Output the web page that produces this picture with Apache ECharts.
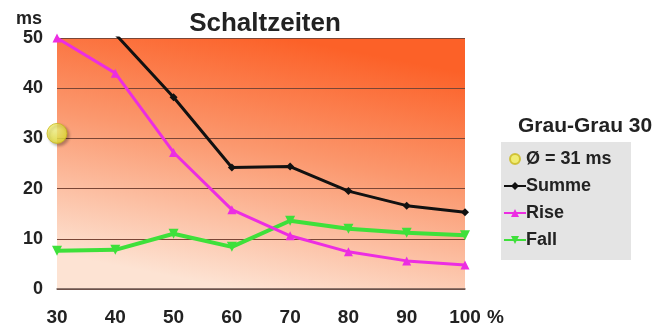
<!DOCTYPE html>
<html><head><meta charset="utf-8">
<script src="https://cdn.jsdelivr.net/npm/echarts@6/dist/echarts.min.js"></script>
<style>html,body{margin:0;padding:0;background:#fff}#c{width:659px;height:328px}</style>
</head><body><div id="c"></div>
<script>
const categories = ['30','40','50','60','70','80','90','100'];
const summe = [57.6, 50.8, 38.2, 24.2, 24.4, 19.5, 16.6, 15.3];
const rise  = [50, 43, 27.2, 15.8, 10.6, 7.4, 5.6, 4.8];
const fall  = [7.6, 7.8, 11.0, 8.4, 13.6, 12.0, 11.2, 10.7];
const avg   = [31, null, null, null, null, null, null, null];
const yTicks = [0, 10, 20, 30, 40, 50];

const F = 'Liberation Sans, Arial, sans-serif';
const chart = echarts.init(document.getElementById('c'));
chart.setOption({
  animation: false,
  title: [
    {text: 'Schaltzeiten', left: 260, textAlign: 'center', top: 6,
     textStyle: {fontFamily: F, fontSize: 26, fontWeight: 'bold', color: '#222'}},
    {text: 'Grau-Grau 30', left: 513, top: 111,
     textStyle: {fontFamily: F, fontSize: 21, fontWeight: 'bold', color: '#222'}}
  ],
  graphic: [{type: 'rect', shape: {x: 501, y: 142, width: 130, height: 118}, style: {fill: '#e4e4e4'}, z: 0}],
  legend: {
    orient: 'vertical', left: 503, top: 150, padding: 0, z: 10,
    itemGap: 9, itemWidth: 22, itemHeight: 10,
    textStyle: {fontFamily: F, fontSize: 18, lineHeight: 18, fontWeight: 'bold', color: '#222', padding: [0,0,0,-5]},
    data: [
      {name: 'Ø = 31 ms', icon: 'circle', itemStyle: {color: '#f2ee55'}},
      {name: 'Summe'}, {name: 'Rise'}, {name: 'Fall'}
    ]
  },
  grid: {left: 57, right: 194, top: 38, bottom: 39, show: true, borderWidth: 0,
    backgroundColor: {type: 'linear', x: 0.56, y: 0, x2: 0.44, y2: 1, colorStops: [
      {offset: 0, color: '#fc6128'}, {offset: 0.45, color: '#fb986e'}, {offset: 1, color: '#fde3d3'}]}},
  xAxis: {
    type: 'category', data: categories, boundaryGap: false,
    name: '%', nameLocation: 'end', nameGap: 22,
    nameTextStyle: {fontFamily: F, fontSize: 19, fontWeight: 'bold', color: '#222', verticalAlign: 'top', align: 'left', padding: [19, 0, 0, 0]},
    axisLine: {lineStyle: {color: '#6a5650', width: 1.5}},
    axisTick: {show: false},
    axisLabel: {fontFamily: F, fontSize: 19, fontWeight: 'bold', color: '#222', margin: 19}
  },
  yAxis: {
    type: 'value', min: yTicks[0], max: yTicks[yTicks.length - 1], interval: 10,
    name: 'ms', nameLocation: 'end', nameGap: 10,
    nameTextStyle: {fontFamily: F, fontSize: 18, fontWeight: 'bold', color: '#222', align: 'right', padding: [0, 15, 0, 0]},
    axisLine: {show: false}, axisTick: {show: false},
    axisLabel: {fontFamily: F, fontSize: 18, fontWeight: 'bold', color: '#222', margin: 14},
    splitLine: {lineStyle: {color: '#7a4636', width: 1}}
  },
  series: [
    {name: 'Summe', type: 'line', data: summe, color: '#111', clip: true,
     symbol: 'diamond', symbolSize: 8, lineStyle: {width: 3}, z: 4},
    {name: 'Rise', type: 'line', data: rise, color: '#ec2de2', clip: true,
     symbol: 'triangle', symbolSize: 9, lineStyle: {width: 3}, z: 3},
    {name: 'Fall', type: 'line', data: fall, color: '#3ee03a', clip: true,
     symbol: 'triangle', symbolRotate: 180, symbolSize: 10, lineStyle: {width: 4}, z: 2},
    {name: 'Ø = 31 ms', type: 'scatter', data: avg, symbolSize: 20, z: 6,
     itemStyle: {color: {type: 'radial', x: 0.4, y: 0.35, r: 0.7, colorStops: [
        {offset: 0, color: '#fbf98a'}, {offset: 1, color: '#e8df2a'}]},
       borderColor: '#c9b81c', borderWidth: 1, shadowColor: 'rgba(0,0,0,0.35)', shadowBlur: 3, shadowOffsetX: 2, shadowOffsetY: 2}}
  ]
});
</script></body></html>
